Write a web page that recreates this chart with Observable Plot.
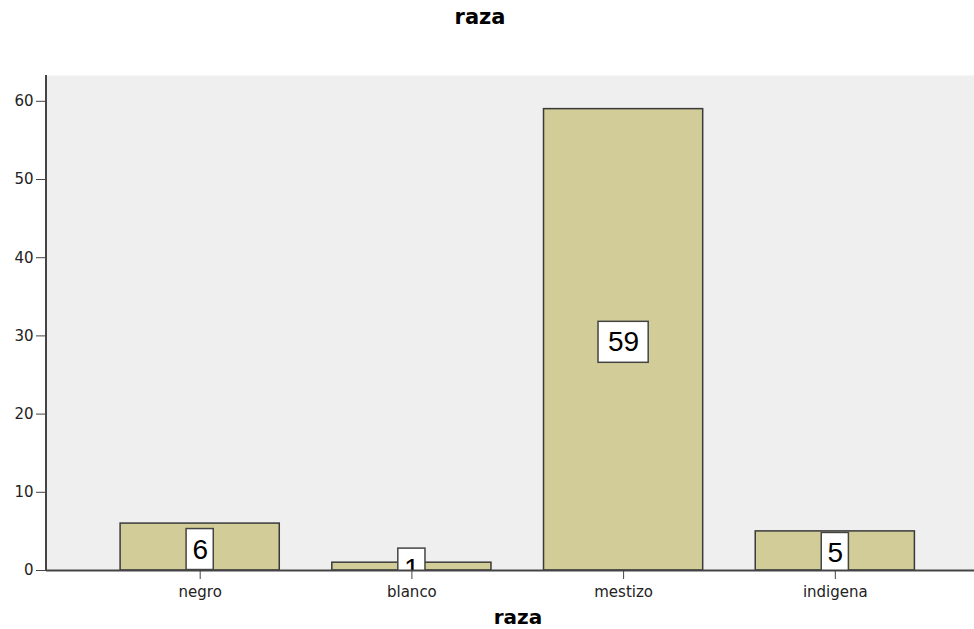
<!DOCTYPE html>
<html>
<head>
<meta charset="utf-8">
<script src="https://cdn.jsdelivr.net/npm/d3@7"></script>
<script src="https://cdn.jsdelivr.net/npm/@observablehq/plot@0.6"></script>
<style>
  html, body { margin: 0; padding: 0; background: #fff; }
  #chart svg { display: block; }
</style>
</head>
<body>
<div id="chart"></div>
<script>
const categories = ["negro", "blanco", "mestizo", "indigena"];
const counts = [6, 1, 59, 5];
const yTicks = [0, 10, 20, 30, 40, 50, 60];
const title = "raza";
const xLabel = "raza";

const data = categories.map((c, i) => ({ cat: c, n: counts[i], label: String(counts[i]) }));
const boxHalf = 2.62; // half box height in data units
const oneDigit = data.filter(d => d.label.length === 1);
const twoDigit = data.filter(d => d.label.length === 2);

const axisLine = (index, scales, values, dims) => {
  const g = d3.create("svg:g");
  g.append("line")
    .attr("x1", dims.marginLeft).attr("x2", dims.marginLeft)
    .attr("y1", dims.marginTop).attr("y2", dims.height - dims.marginBottom)
    .attr("stroke", "#444").attr("stroke-width", 2);
  return g.node();
};

const boxStyle = {
  x: "cat",
  y1: d => d.n / 2 - boxHalf,
  y2: d => d.n / 2 + boxHalf,
  dy: 2.5,
  fill: "#ffffff",
  stroke: "#444",
  strokeWidth: 1.5,
  clip: true
};

const tickFont = "'DejaVu Sans', sans-serif";

const chart = Plot.plot({
  width: 974,
  height: 629,
  marginLeft: 46,
  marginRight: 0,
  marginTop: 75,
  marginBottom: 59,
  style: { fontFamily: tickFont, fontSize: "14px", background: "#fff", color: "#222" },
  x: { domain: categories, range: [46, 988.5], paddingInner: 0.2482, paddingOuter: 0.35, round: false, label: null },
  y: { domain: [0, 63.3], label: null },
  marks: [
    Plot.frame({ fill: "#efefef", stroke: null }),
    Plot.barY(data, { x: "cat", y: "n", fill: "#d2cd98", stroke: "#3a3a3a", strokeWidth: 1.5 }),
    Plot.barY(oneDigit, { ...boxStyle, insetLeft: 66, insetRight: 66 }),
    Plot.barY(twoDigit, { ...boxStyle, insetLeft: 54.5, insetRight: 54.5 }),
    Plot.text(data, { x: "cat", y: d => d.n / 2, text: "label", fontSize: 28, fill: "#000", dy: 2.5, clip: true, fontFamily: "'Liberation Sans', Arial, sans-serif" }),
    Plot.ruleY([0], { stroke: "#444", strokeWidth: 2 }),
    axisLine,
    Plot.axisY({ ticks: yTicks, tickSize: 10, tickPadding: 3, fontSize: 15, stroke: "#444", tickFormat: d3.format("d") }),
    Plot.axisX({ tickSize: 9, tickPadding: 7, fontSize: 15, stroke: "#444" }),
    Plot.text([title], { frameAnchor: "top", dx: -30.5, dy: -66, fontSize: 21, fontWeight: "bold", fill: "#000", fontFamily: tickFont }),
    Plot.text([xLabel], { frameAnchor: "bottom", dx: 7.5, dy: 53, fontSize: 20, fontWeight: "bold", fill: "#000", fontFamily: tickFont })
  ]
});
document.getElementById("chart").appendChild(chart);
</script>
</body>
</html>
